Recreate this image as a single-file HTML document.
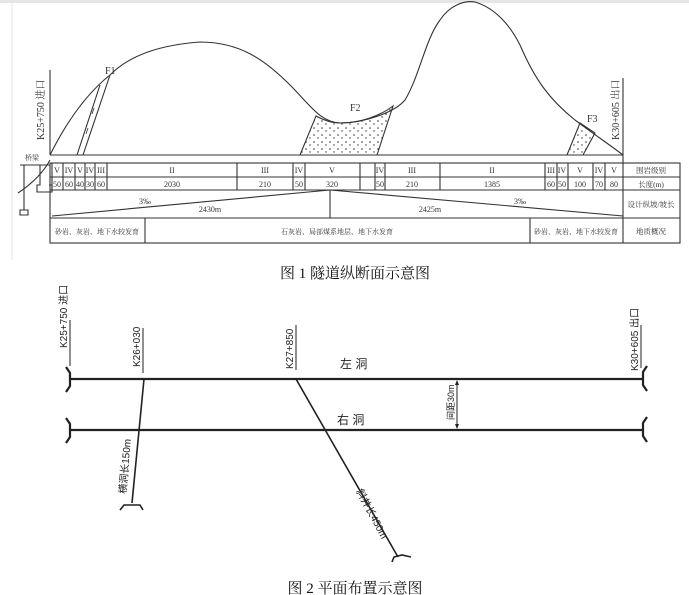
<!DOCTYPE html>
<html><head><meta charset="utf-8"><style>
body{margin:0;background:#fff;}
svg{display:block;font-family:"Liberation Serif","Noto Serif CJK SC",serif;}
.s{font-family:"Liberation Sans","Noto Sans CJK SC",sans-serif;}
</style></head><body>
<svg width="689" height="595" viewBox="0 0 689 595" xmlns="http://www.w3.org/2000/svg">
<defs>
<pattern id="dots" width="8" height="7" patternUnits="userSpaceOnUse">
<circle cx="2" cy="2" r="0.8" fill="#333"/><circle cx="6" cy="5" r="0.7" fill="#333"/>
</pattern>
</defs>
<rect x="0" y="0" width="689" height="3" fill="#e6e6e6"/>
<line x1="12" y1="3" x2="12" y2="260" stroke="#eee" stroke-width="1.5"/>
<g stroke="#333" fill="none" stroke-width="1.1">
<path d="M300,155 L316,116 C325,121 332,123 340,123 C360,123 380,116 393,106 L377,155 Z" fill="url(#dots)"/>
<path d="M567,155 L580,123 L595,133 L583,155 Z" fill="url(#dots)"/>
<path d="M77,155 L100,85 M83,155 L110,75"/>
<line x1="88" y1="128" x2="86" y2="134" stroke-width="0.8"/>
<line x1="94" y1="108" x2="92" y2="114" stroke-width="0.8"/>
<path d="M50,155 C65,125 85,95 110,75 C130,55 160,45 200,42 C240,42 265,60 290,85 C310,105 320,122 340,123 C365,123 395,112 405,100 C420,75 425,40 440,20 C450,5 465,0 475,2 C495,8 510,25 520,45 C535,80 550,100 575,120 C595,135 610,145 623,155"/>
<line x1="50" y1="70" x2="50" y2="155"/>
<line x1="623" y1="78" x2="623" y2="243"/>
<path d="M20,165 L50,165 M24,165 L24,210 M20,210 h8 v5 h-8 z M40,165 v20 h-3 v7 h15 v-7 h-3 M50,160 C42,175 30,185 18,193"/>
<line x1="50" y1="155" x2="623" y2="155"/>
<rect x="50" y="163" width="630" height="80"/>
<line x1="50" y1="177" x2="680" y2="177"/>
<line x1="50" y1="190" x2="680" y2="190"/>
<line x1="50" y1="218" x2="680" y2="218"/>
<path d="M52,163v27M63,163v27M75,163v27M85,163v27M95,163v27M107,163v27M237,163v27M293,163v27M305,163v27M360,163v27M375,163v27M385,163v27M440,163v27M545,163v27M557,163v27M568,163v27M593,163v27M605,163v27"/>
<line x1="330" y1="190" x2="330" y2="218"/>
<path d="M52,216 L330,190 L623,216"/>
<line x1="145" y1="218" x2="145" y2="243"/>
<line x1="530" y1="218" x2="530" y2="243"/>
</g>
<g font-size="8" fill="#333" text-anchor="middle">
<text x="57" y="173">V</text><text x="69" y="173">IV</text><text x="80" y="173">V</text><text x="90" y="173">IV</text><text x="101" y="173">III</text>
<text x="172" y="173">II</text><text x="265" y="173">III</text><text x="299" y="173">IV</text><text x="332" y="173">V</text>
<text x="380" y="173">IV</text><text x="412" y="173">III</text><text x="492" y="173">II</text><text x="551" y="173">III</text><text x="562" y="173">IV</text><text x="580" y="173">V</text><text x="599" y="173">IV</text><text x="614" y="173">V</text>
<text x="57" y="187">50</text><text x="69" y="187">60</text><text x="80" y="187">40</text><text x="90" y="187">30</text><text x="101" y="187">60</text>
<text x="172" y="187">2030</text><text x="265" y="187">210</text><text x="299" y="187">50</text><text x="332" y="187">320</text>
<text x="380" y="187">50</text><text x="412" y="187">210</text><text x="492" y="187">1385</text><text x="551" y="187">60</text><text x="562" y="187">50</text><text x="580" y="187">100</text><text x="599" y="187">70</text><text x="614" y="187">80</text>
<text x="145" y="204">3‰</text><text x="210" y="212">2430m</text>
<text x="520" y="204">3‰</text><text x="430" y="212">2425m</text>
</g>
<g font-size="7.5" fill="#333" text-anchor="middle">
<text x="651" y="173">围岩级别</text><text x="651" y="187">长度(m)</text><text x="651" y="207">设计纵坡/坡长</text><text x="651" y="234">地质概况</text>
</g>
<g font-size="7" fill="#333" text-anchor="middle">
<text x="97" y="234">砂岩、灰岩、地下水较发育</text>
<text x="337" y="234">石灰岩、局部煤系地层、地下水发育</text>
<text x="576" y="234">砂岩、灰岩、地下水较发育</text>
<text x="32" y="160">桥梁</text>
</g>
<g font-size="10" fill="#333">
<text x="105" y="74">F1</text><text x="350" y="111">F2</text><text x="587" y="122">F3</text>
<text transform="translate(44,140) rotate(-90)">K25+750 进口</text>
<text transform="translate(619,140) rotate(-90)">K30+605 出口</text>
</g>
<text x="355" y="278" font-size="15" text-anchor="middle" fill="#111">图 1 隧道纵断面示意图</text>
<g stroke="#222" fill="none" stroke-width="2.2">
<line x1="70" y1="379" x2="643" y2="379"/>
<line x1="70" y1="430" x2="643" y2="430"/>
<path d="M66,367 L70,373 L70,386 L66,392"/>
<path d="M66,418 L70,424 L70,437 L66,443"/>
<path d="M647,366 L643,372 L643,385 L647,391"/>
<path d="M647,417 L643,423 L643,436 L647,442"/>
<line x1="144" y1="379" x2="132" y2="503" stroke-width="1.6"/>
<path d="M120,510 L124,505 L140,505 L143,510" stroke-width="1.6"/>
<line x1="296" y1="379" x2="398" y2="557" stroke-width="1.6"/>
<path d="M392,562 L394,557 L402,555 L411,557" stroke-width="1.6"/>
</g>
<g stroke="#222" stroke-width="1">
<line x1="70" y1="320" x2="70" y2="366"/>
<line x1="143" y1="328" x2="143" y2="373"/>
<line x1="296" y1="325" x2="296" y2="370"/>
<line x1="641" y1="325" x2="641" y2="368"/>
<line x1="457" y1="381" x2="457" y2="428"/>
</g>
<path d="M457,380 l-2,5 h4 z M457,429 l-2,-5 h4 z" fill="#222"/>
<g class="s" font-size="10" fill="#222">
<text transform="translate(67,348) rotate(-90)">K25+750 进口</text>
<text transform="translate(140,367) rotate(-90)">K26+030</text>
<text transform="translate(293,369) rotate(-90)">K27+850</text>
<text transform="translate(638,371) rotate(-90)">K30+605 出口</text>
<text x="340" y="368" font-size="12">左 洞</text>
<text x="337" y="424" font-size="12">右 洞</text>
<text transform="translate(454,420) rotate(-90)" font-size="9">间距30m</text>
<text transform="translate(126,494) rotate(-85)" font-size="10">横洞长150m</text>
<text transform="translate(356,491) rotate(62)" font-size="10">斜井长450m</text>
</g>
<text x="355" y="593" font-size="15" text-anchor="middle" fill="#111">图 2 平面布置示意图</text>
</svg>
</body></html>
